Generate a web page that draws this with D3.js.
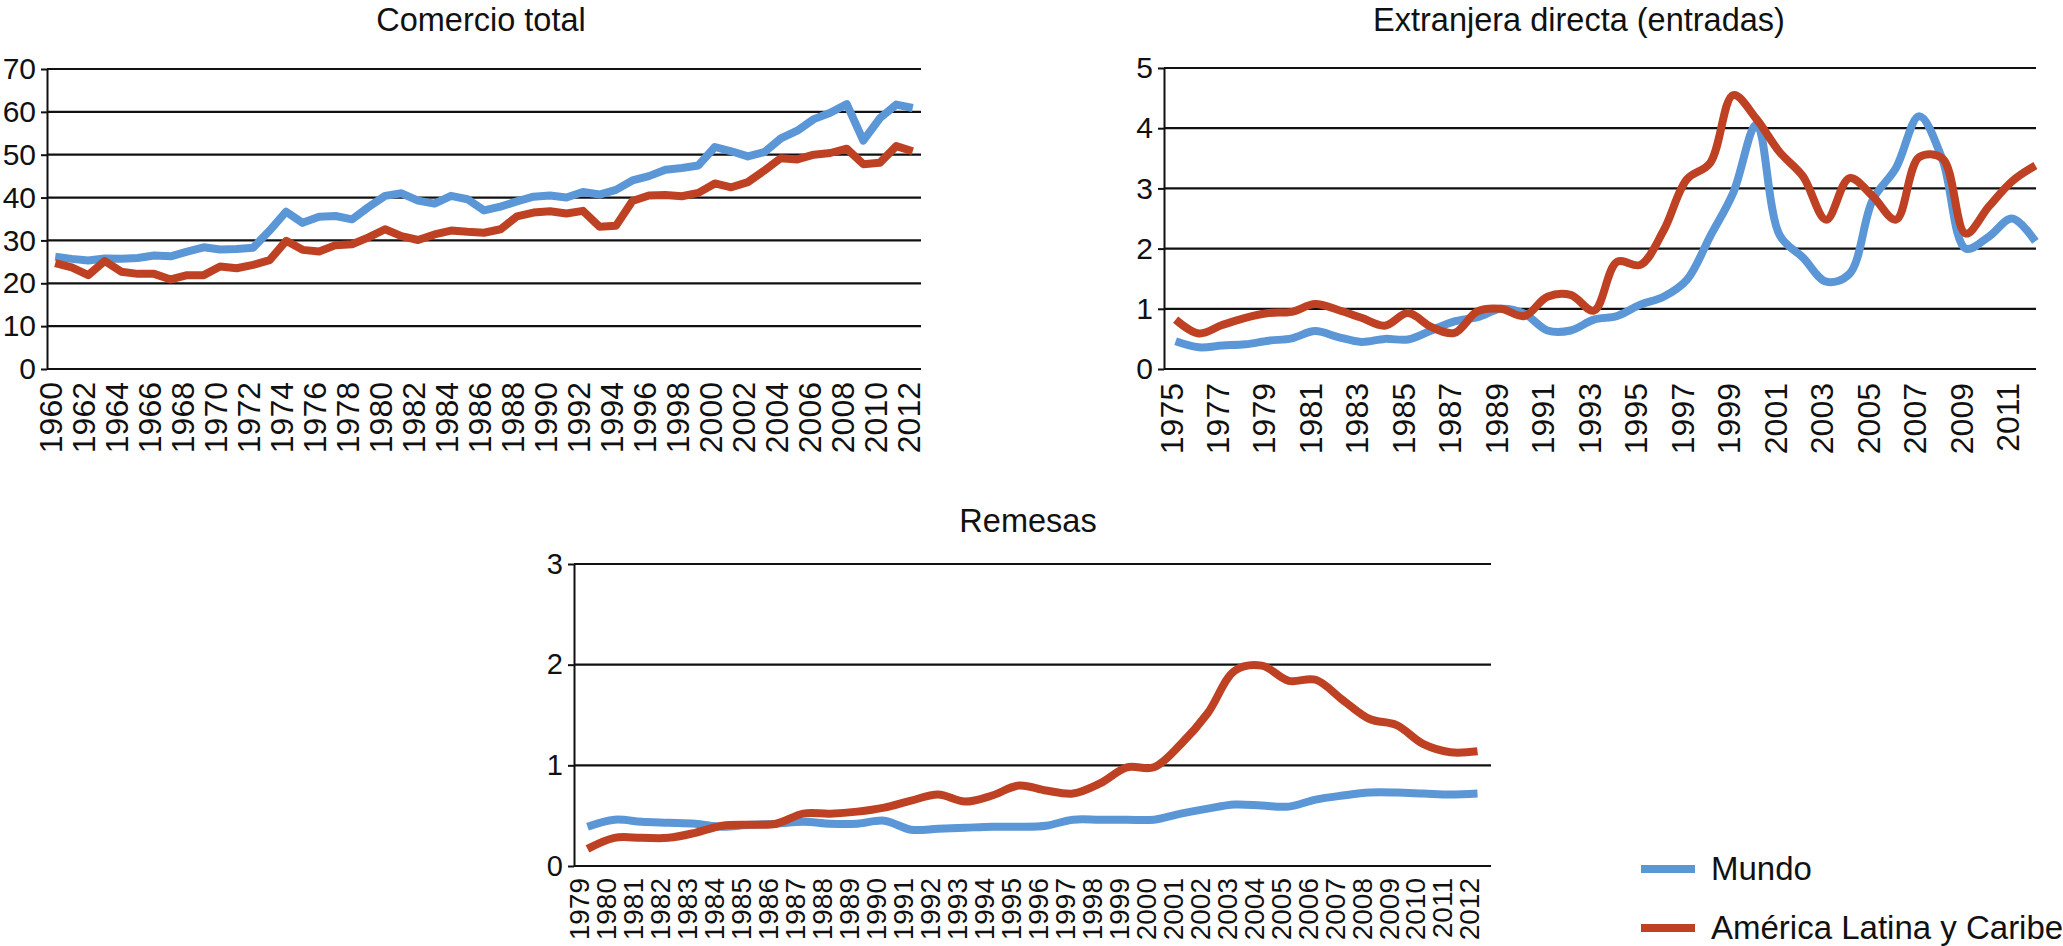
<!DOCTYPE html>
<html>
<head>
<meta charset="utf-8">
<script src="https://cdn.jsdelivr.net/npm/d3@7"></script>
<style>
  body { margin: 0; background: #fff; }
  svg { display: block; }
  text { font-family: "Liberation Sans", Arial, Helvetica, sans-serif; fill: #111; }
  .grid line { stroke: #111; stroke-width: 2.2; }
  .y.axis path, .y.axis line { stroke: #111; stroke-width: 2; }
  .series { fill: none; stroke-width: 8; stroke-linejoin: round; }
</style>
</head>
<body>
<script>
'use strict';

var seriesNames = ["Mundo", "América Latina y Caribe"];
var seriesColors = ["#5b96d6", "#bf4123"];

// Comercio total (% PIB), 1960-2012
var comercioYears = d3.range(1960, 2013);
var comercioMundo = [
  26.2, 25.7, 25.3, 25.8, 25.7, 25.9, 26.5, 26.3, 27.4, 28.4,
  27.9, 28.0, 28.3, 32.3, 36.7, 34.1, 35.5, 35.7, 34.9, 37.8,
  40.4, 41.0, 39.3, 38.6, 40.4, 39.6, 37.0, 37.9, 39.1, 40.2,
  40.5, 40.0, 41.3, 40.7, 41.8, 44.0, 45.0, 46.5, 46.9, 47.5,
  51.8, 50.8, 49.6, 50.6, 53.8, 55.6, 58.3, 59.8, 61.8, 53.3,
  58.5, 61.7, 60.9];
var comercioALC = [
  24.7, 23.7, 21.9, 25.2, 22.7, 22.2, 22.2, 20.9, 21.9, 21.9,
  23.9, 23.5, 24.3, 25.4, 29.9, 27.8, 27.4, 28.9, 29.1, 30.7,
  32.6, 31.0, 30.1, 31.4, 32.3, 32.0, 31.8, 32.6, 35.6, 36.5,
  36.8, 36.3, 36.9, 33.2, 33.4, 39.2, 40.5, 40.6, 40.3, 41.1,
  43.3, 42.4, 43.6, 46.3, 49.2, 48.9, 50.0, 50.4, 51.4, 47.8,
  48.1, 52.0, 50.8];
var comercioTicks = [0, 10, 20, 30, 40, 50, 60, 70];

// Extranjera directa (entradas), 1975-2012
var iedYears = d3.range(1975, 2013);
var iedMundo = [
  0.46, 0.36, 0.39, 0.41, 0.47, 0.51, 0.63, 0.53, 0.45, 0.50,
  0.49, 0.64, 0.79, 0.86, 1.00, 0.92, 0.64, 0.64, 0.82, 0.88,
  1.07, 1.20, 1.48, 2.20, 2.93, 4.06, 2.22, 1.85, 1.45, 1.58,
  2.81, 3.34, 4.20, 3.48, 2.00, 2.20, 2.50, 2.12];
var iedALC = [
  0.82, 0.59, 0.73, 0.85, 0.93, 0.95, 1.08, 0.98, 0.85, 0.72,
  0.93, 0.70, 0.60, 0.96, 1.00, 0.88, 1.20, 1.23, 0.97, 1.78,
  1.73, 2.30, 3.15, 3.42, 4.55, 4.15, 3.60, 3.20, 2.48, 3.17,
  2.87, 2.48, 3.52, 3.50, 2.25, 2.70, 3.12, 3.38];
var iedTicks = [0, 1, 2, 3, 4, 5];

// Remesas, 1979-2012
var remesasYears = d3.range(1979, 2013);
var remesasMundo = [
  0.39, 0.46, 0.44, 0.43, 0.42, 0.39, 0.41, 0.42, 0.44, 0.42,
  0.42, 0.45, 0.36, 0.37, 0.38, 0.39, 0.39, 0.40, 0.46, 0.46,
  0.46, 0.46, 0.52, 0.57, 0.61, 0.60, 0.59, 0.66, 0.70, 0.73,
  0.73, 0.72, 0.71, 0.72];
var remesasALC = [
  0.17, 0.28, 0.28, 0.28, 0.33, 0.40, 0.41, 0.42, 0.52, 0.52,
  0.54, 0.58, 0.65, 0.71, 0.64, 0.70, 0.80, 0.75, 0.72, 0.82,
  0.98, 0.98, 1.21, 1.52, 1.94, 1.99, 1.84, 1.85, 1.65, 1.46,
  1.40, 1.21, 1.13, 1.14];
var remesasTicks = [0, 1, 2, 3];

var _width = 2063;
var _height = 946;

var svg = d3.select(document.body)
    .append("svg")
    .attr("width", _width)
    .attr("height", _height)
    .attr("xmlns", "http://www.w3.org/2000/svg");

function drawPanel(p) {
  var g = svg.append("g").attr("class", "panel");

  var x = d3.scalePoint()
      .domain(p.years)
      .range([p.left, p.right])
      .padding(0.5);

  var y = d3.scaleLinear()
      .domain([0, d3.max(p.ticks)])
      .range([p.bottom, p.top]);

  // lineas de cuadricula
  g.append("g")
      .attr("class", "grid")
      .selectAll("line")
      .data(p.ticks)
      .enter()
      .append("line")
      .attr("x1", p.left)
      .attr("x2", p.gridRight)
      .attr("y1", function(d) { return y(d); })
      .attr("y2", function(d) { return y(d); });

  // eje Y
  var yAxis = d3.axisLeft(y)
      .tickValues(p.ticks)
      .tickFormat(d3.format("d"))
      .tickSizeInner(6)
      .tickSizeOuter(0)
      .tickPadding(5);

  var ya = g.append("g")
      .attr("class", "y axis")
      .attr("transform", "translate(" + p.left + ",0)")
      .call(yAxis);
  ya.selectAll("text")
      .style("font-size", p.tickFont + "px")
      .style("font-family", "'Liberation Sans', Arial, sans-serif")
      .attr("fill", "#111");

  // eje X (etiquetas verticales)
  var xAxis = d3.axisBottom(x)
      .tickValues(p.years.filter(function(d, i) { return i % p.every === 0; }))
      .tickSize(0)
      .tickPadding(0);

  var xa = g.append("g")
      .attr("class", "x axis")
      .attr("transform", "translate(0," + p.bottom + ")")
      .call(xAxis);
  xa.select(".domain").remove();
  xa.selectAll("text")
      .attr("transform", "rotate(-90)")
      .attr("text-anchor", "end")
      .attr("x", -p.labelGap)
      .attr("y", 0)
      .attr("dy", p.labelDy)
      .style("font-size", p.labelFont + "px")
      .style("font-family", "'Liberation Sans', Arial, sans-serif")
      .attr("fill", "#111");

  // series
  var line = d3.line()
      .x(function(d, i) { return x(p.years[i]); })
      .y(function(d) { return y(d); })
      .curve(p.curve);

  g.append("g")
      .selectAll("path.series")
      .data(p.series)
      .enter()
      .append("path")
      .attr("class", "series")
      .attr("stroke", function(d, i) { return seriesColors[i]; })
      .attr("d", function(d) { return line(d); });

  // titulo
  g.append("text")
      .attr("x", p.titleX)
      .attr("y", p.titleY)
      .attr("text-anchor", "middle")
      .style("font-size", "32.5px")
      .text(p.title);
}

drawPanel({
  title: "Comercio total",
  years: comercioYears,
  series: [comercioMundo, comercioALC],
  ticks: comercioTicks,
  left: 47, right: 921, gridRight: 921, top: 69, bottom: 369,
  titleX: 481, titleY: 31,
  every: 2, tickFont: 30, labelFont: 32, labelGap: 13, labelDy: "0.2em",
  curve: d3.curveLinear
});

drawPanel({
  title: "Extranjera directa (entradas)",
  years: iedYears,
  series: [iedMundo, iedALC],
  ticks: iedTicks,
  left: 1164, right: 2047, gridRight: 2036, top: 68, bottom: 369,
  titleX: 1579, titleY: 31,
  every: 2, tickFont: 30, labelFont: 32, labelGap: 14, labelDy: "0.2em",
  curve: d3.curveCatmullRom.alpha(0.5)
});

drawPanel({
  title: "Remesas",
  years: remesasYears,
  series: [remesasMundo, remesasALC],
  ticks: remesasTicks,
  left: 574, right: 1491, gridRight: 1491, top: 564, bottom: 866,
  titleX: 1028, titleY: 532,
  every: 1, tickFont: 29, labelFont: 28, labelGap: 12, labelDy: "0.05em",
  curve: d3.curveCatmullRom.alpha(0.5)
});

// leyenda
var legend = svg.append("g").attr("class", "legend")
    .selectAll("g")
    .data(seriesNames)
    .enter()
    .append("g")
    .attr("transform", function(d, i) { return "translate(1641," + (869 + i * 59) + ")"; });

legend.append("line")
    .attr("x1", 0)
    .attr("x2", 54)
    .attr("stroke", function(d, i) { return seriesColors[i]; })
    .attr("stroke-width", 8);

legend.append("text")
    .attr("x", 70)
    .attr("y", 11)
    .style("font-size", "33px")
    .text(function(d) { return d; });
</script>
</body>
</html>
